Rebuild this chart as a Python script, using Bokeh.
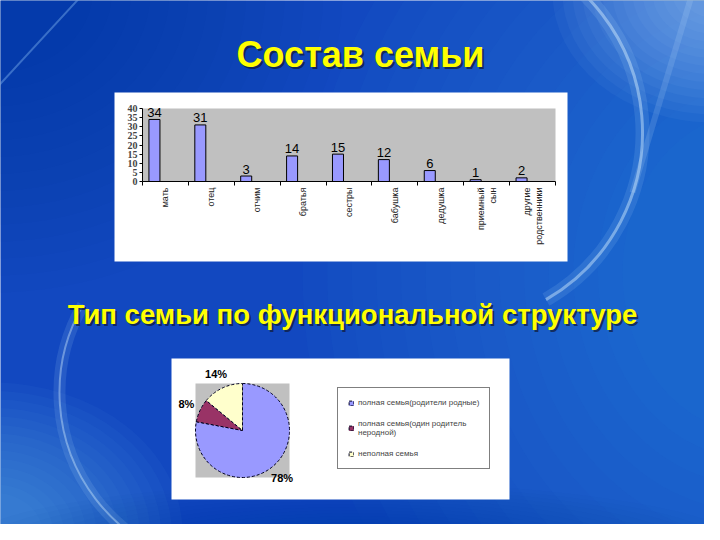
import math
from bokeh.plotting import figure
from bokeh.models import Range1d, LinearAxis, FixedTicker, Legend, LegendItem, ColumnDataSource
from bokeh.core.properties import value
from bokeh.embed import file_html
from bokeh.resources import INLINE

# ---------------- data ----------------
title_top = "Состав семьи"
title_bottom = "Тип семьи по функциональной структуре"

members = ["мать", "отец", "отчим", "братья", "сестры", "бабушка", "дедушка",
           "приемный\nсын", "другие\nродственники"]
member_counts = [34, 31, 3, 14, 15, 12, 6, 1, 2]
count_ticks = [0, 5, 10, 15, 20, 25, 30, 35, 40]

family_types = ["полная семья(родители родные)",
                "полная семья(один родитель\nнеродной)",
                "неполная семья"]
family_shares = [78, 8, 14]
family_colors = ["#9999FF", "#993366", "#FFFFCC"]

# ---------------- page / slide ----------------
W, H = 704, 524
BASE = "#1248c0"
FONT = "Liberation Sans"


def Y(ry):  # slide pixel row -> upward coordinate
    return 540 - ry


p = figure(width=W, height=H, x_range=Range1d(8, 712), y_range=Range1d(8, 532),
           output_backend="svg", toolbar_location=None, min_border=0,
           x_axis_type=None, y_axis_type=None)
p.outline_line_color = None
p.background_fill_color = BASE
p.border_fill_color = BASE
p.grid.visible = False


def glow(cx, cy, w0, h0, w1, h1, color, alpha, steps=14):
    for k in range(steps):
        t = k / (steps - 1)
        p.ellipse(x=[cx], y=[Y(cy)], width=[w0 + (w1 - w0) * t], height=[h0 + (h1 - h0) * t],
                  fill_color=color, fill_alpha=alpha, line_color=None)


# background shading (soft glows)
glow(0, 0, 700, 600, 200, 160, "#082c90", 0.04)
glow(760, 280, 900, 1000, 260, 320, "#3a8ee8", 0.04)
glow(720, 0, 320, 260, 60, 50, "#a8dcff", 0.05)
glow(0, 540, 380, 300, 100, 80, "#6ab8f4", 0.05)
glow(360, 560, 800, 140, 300, 60, "#0b3aa8", 0.03)
# light swirls
p.arc(x=[457], y=[Y(140)], radius=193, start_angle=math.radians(-60), end_angle=math.radians(70),
      line_color="#bfe6ff", line_width=14, line_alpha=0.12)
p.arc(x=[457], y=[Y(140)], radius=193, start_angle=math.radians(-60), end_angle=math.radians(70),
      line_color="#d8f0ff", line_width=3, line_alpha=0.45)
p.arc(x=[242], y=[Y(400)], radius=175, start_angle=math.radians(150), end_angle=math.radians(285),
      line_color="#bfe6ff", line_width=12, line_alpha=0.12)
p.arc(x=[242], y=[Y(400)], radius=175, start_angle=math.radians(150), end_angle=math.radians(285),
      line_color="#d8f0ff", line_width=2, line_alpha=0.4)
p.segment(x0=[0], y0=[Y(100)], x1=[92], y1=[Y(0)], line_color="#9fd0ff", line_width=2, line_alpha=0.35)
p.segment(x0=[700], y0=[Y(0)], x1=[640], y1=[Y(200)], line_color="#cfeaff", line_width=6, line_alpha=0.15)

# titles
for txt, tx, ty, size in [(title_top, 368, 62, "36px"), (title_bottom, 360, 322, "27.5px")]:
    p.text(x=[tx + 2], y=[Y(ty) - 2], text=[txt], text_align="center", text_baseline="middle",
           text_font=value(FONT), text_font_style="bold", text_font_size=size,
           text_color="#101830", text_alpha=0.7)
    p.text(x=[tx], y=[Y(ty)], text=[txt], text_align="center", text_baseline="middle",
           text_font=value(FONT), text_font_style="bold", text_font_size=size,
           text_color="#FFFF00")

# white boxes
p.quad(left=[122, 179], right=[575, 517], bottom=[Y(269), Y(507)], top=[Y(100), Y(366)],
       fill_color="#FFFFFF", line_color=None)

# ---------------- bar chart (own scales) ----------------
n = len(members)
unit = (563 - 150) / n
ppv = (189 - 116) / count_ticks[-1]
p.extra_x_ranges["bx"] = Range1d(0.5 + (8 - 150) / unit, 0.5 + (712 - 150) / unit)
p.extra_y_ranges["by"] = Range1d((189 - 532) / ppv, (189 - 8) / ppv)

p.quad(left=[0.5], right=[n + 0.5], bottom=[0], top=[count_ticks[-1]],
       fill_color="#C0C0C0", line_color=None, x_range_name="bx", y_range_name="by")

bar_x = [i + 1 - 0.24 for i in range(n)]
src = ColumnDataSource(dict(x=bar_x, top=member_counts, lab=[str(v) for v in member_counts]))
p.vbar(x="x", top="top", bottom=0, width=0.24, source=src, fill_color="#9999FF",
       line_color="#000000", line_width=1, x_range_name="bx", y_range_name="by")
p.text(x="x", y="top", text="lab", source=src, text_align="center", text_baseline="alphabetic",
       y_offset=-7, text_font=value(FONT), text_font_size="13px", text_color="#000000",
       x_range_name="bx", y_range_name="by")

yax = LinearAxis(x_range_name="bx", y_range_name="by", fixed_location=0.5,
                 bounds=(0, count_ticks[-1]), ticker=FixedTicker(ticks=count_ticks))
yax.major_tick_out = 3
yax.major_tick_in = 0
yax.minor_tick_line_color = None
yax.axis_line_color = "#000000"
yax.major_label_text_font = "Liberation Sans Narrow"
yax.major_label_text_font_style = "bold"
yax.major_label_text_font_size = "10px"
yax.major_label_standoff = 2
p.add_layout(yax, "left")

xt = LinearAxis(x_range_name="bx", y_range_name="by", fixed_location=0,
                bounds=(0.5, n + 0.5), ticker=FixedTicker(ticks=[i + 0.5 for i in range(n + 1)]))
xt.major_tick_out = 4
xt.major_tick_in = 0
xt.minor_tick_line_color = None
xt.major_label_text_alpha = 0
xt.major_label_text_font_size = "1px"
xt.axis_line_color = "#000000"
p.add_layout(xt, "below")

xl = LinearAxis(x_range_name="bx", y_range_name="by", fixed_location=0,
                ticker=FixedTicker(ticks=[i + 1 for i in range(n)]),
                major_label_overrides={i + 1: m for i, m in enumerate(members)})
xl.axis_line_color = None
xl.major_tick_line_color = None
xl.minor_tick_line_color = None
xl.major_tick_out = 0
xl.major_tick_in = 0
xl.major_label_orientation = math.pi / 2
xl.major_label_standoff = 6
xl.major_label_text_font = FONT
xl.major_label_text_font_size = "9px"
xl.major_label_text_color = "#222222"
p.add_layout(xl, "below")

# ---------------- pie chart (own scales) ----------------
R = 47
p.extra_x_ranges["px"] = Range1d((8 - 250) / R, (712 - 250) / R)
p.extra_y_ranges["py"] = Range1d((438 - 532) / R, (438 - 8) / R)

p.quad(left=[-1], right=[1], bottom=[-1], top=[1], fill_color="#C0C0C0", line_color=None,
       x_range_name="px", y_range_name="py")

total = sum(family_shares)
starts, ends, mids = [], [], []
cum = 0
for s in family_shares:
    a0 = math.pi / 2 - 2 * math.pi * cum / total
    cum += s
    a1 = math.pi / 2 - 2 * math.pi * cum / total
    starts.append(a0)
    ends.append(a1)
    mids.append((a0 + a1) / 2)

psrc = ColumnDataSource(dict(start=starts, end=ends, color=family_colors,
                             lab=[f"{s}%" for s in family_shares],
                             lx=[1.32 * math.cos(a) for a in mids],
                             ly=[1.32 * math.sin(a) for a in mids]))
wr = p.wedge(x=0, y=0, radius=1, start_angle="start", end_angle="end", direction="clock",
             fill_color="color", line_color="#000022", line_width=1, line_dash="3 2",
             source=psrc, x_range_name="px", y_range_name="py")
p.text(x="lx", y="ly", text="lab", source=psrc, text_align="center", text_baseline="middle",
       text_font=value(FONT), text_font_style="bold", text_font_size="11px", text_color="#000000",
       x_range_name="px", y_range_name="py")

legend = Legend(items=[LegendItem(label=t, renderers=[wr], index=i) for i, t in enumerate(family_types)],
                location=(337, 55))
legend.glyph_width = 6
legend.glyph_height = 6
legend.label_text_font = FONT
legend.label_text_font_size = "8px"
legend.label_text_color = "#444444"
legend.label_height = 8
legend.label_standoff = 4
legend.spacing = 12
legend.padding = 10
legend.margin = 0
legend.border_line_color = "#000000"
legend.border_line_width = 1
legend.background_fill_color = "#FFFFFF"
legend.background_fill_alpha = 1
p.add_layout(legend)

open("out.html", "w").write(file_html(p, INLINE))
